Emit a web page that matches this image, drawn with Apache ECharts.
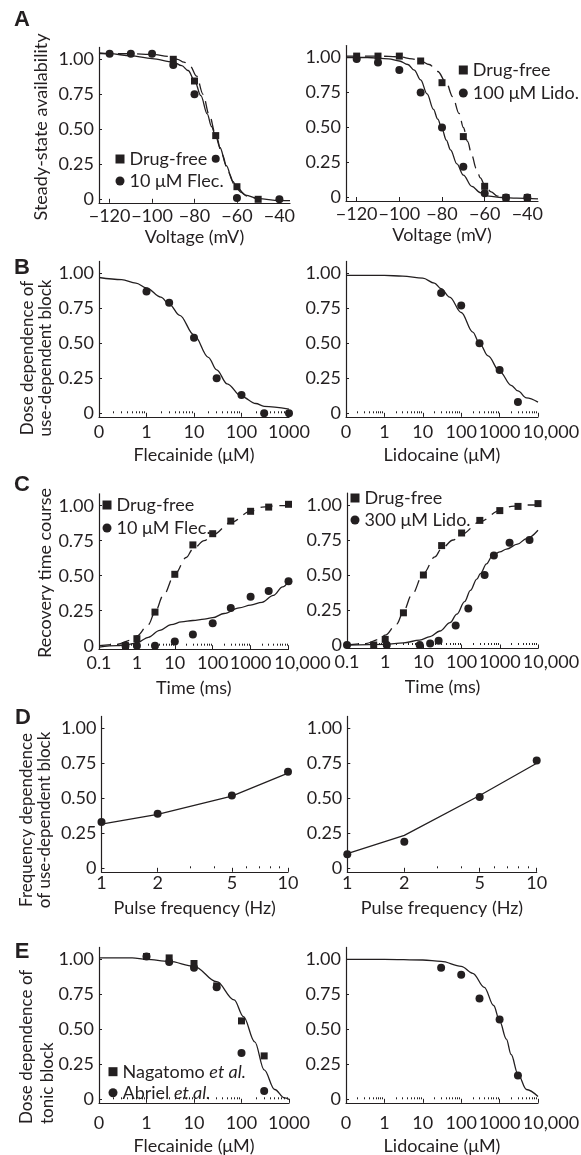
<!DOCTYPE html>
<html>
<head>
<meta charset="utf-8">
<script src="https://cdn.jsdelivr.net/npm/echarts@6/dist/echarts.min.js"></script>
<style>
html,body{margin:0;padding:0;background:#fff}
#chart{width:581px;height:1155px}
</style>
</head>
<body>
<div id="chart"></div>
<script>
// ---- A: steady-state availability vs voltage ----
var voltage = [-120, -110, -100, -90, -80, -70, -60, -50, -40];
var aFreeLeftV = [-90, -80, -70, -60, -50];
var aFreeLeft = [1.0, 0.845, 0.455, 0.09, 0.0];
var aFlecV = [-120, -110, -100, -90, -80, -70, -60, -40];
var aFlec = [1.04, 1.04, 1.04, 0.96, 0.75, 0.29, 0.01, 0.0];
var aFreeRight = [1.01, 1.01, 1.01, 0.975, 0.82, 0.435, 0.08, 0.0, 0.0];
var aLido = [0.99, 0.965, 0.91, 0.75, 0.50, 0.22, 0.03, 0.0, 0.0];

var aFitFlecV = [-125, -120, -110, -100, -90, -86, -83, -80, -77, -74, -72, -70, -68, -65, -62, -60, -56, -50, -40, -35];
var aFitFlec = [1.045, 1.04, 1.025, 1.005, 0.98, 0.955, 0.92, 0.85, 0.74, 0.61, 0.52, 0.45, 0.37, 0.24, 0.13, 0.085, 0.03, 0.005, -0.01, -0.01];
var aFitFreeLV = [-125, -110, -100, -92, -88, -85, -82, -79, -76, -73, -70, -67, -64, -61, -58, -55, -50];
var aFitFreeL = [1.04, 1.04, 1.035, 1.02, 1.0, 0.98, 0.95, 0.88, 0.75, 0.6, 0.46, 0.32, 0.19, 0.1, 0.05, 0.02, 0.0];
var aFitLidoV = [-125, -115, -105, -100, -96, -93, -90, -87, -84, -82, -80, -78, -76, -73, -70, -66, -62, -58, -52, -45, -35];
var aFitLido = [1.0, 1.0, 0.99, 0.975, 0.95, 0.91, 0.84, 0.74, 0.63, 0.56, 0.49, 0.41, 0.34, 0.24, 0.16, 0.08, 0.035, 0.01, 0.0, -0.005, -0.01];
var aFitFreeRV = [-125, -110, -100, -94, -90, -86, -82, -78, -75, -72, -70, -68, -66, -64, -62, -60, -57, -54, -50];
var aFitFreeR = [1.01, 1.01, 1.005, 0.99, 0.975, 0.95, 0.9, 0.82, 0.72, 0.6, 0.5, 0.4, 0.3, 0.21, 0.14, 0.09, 0.04, 0.01, 0.0];

// ---- B: dose dependence of use-dependent block ----
var bFlecConc = [1, 3, 10, 30, 100, 300, 1000];
var bFlec = [0.87, 0.79, 0.54, 0.25, 0.13, 0.0, 0.0];
var bLidoConc = [30, 100, 300, 1000, 3000];
var bLido = [0.86, 0.77, 0.50, 0.31, 0.08];
var bFitFlecC = [0.1, 0.3, 0.6, 1, 2, 3, 5, 10, 20, 30, 50, 100, 200, 300, 1000];
var bFitFlec = [0.97, 0.955, 0.93, 0.895, 0.83, 0.78, 0.70, 0.56, 0.40, 0.31, 0.21, 0.12, 0.07, 0.05, 0.03];
var bFitLidoC = [0.1, 1, 3, 10, 20, 30, 50, 100, 200, 300, 500, 1000, 2000, 3000, 5000, 10000];
var bFitLido = [0.985, 0.985, 0.98, 0.965, 0.93, 0.89, 0.83, 0.72, 0.58, 0.5, 0.41, 0.3, 0.2, 0.16, 0.11, 0.08];

// ---- C: recovery time course ----
var cTime = [0.5, 1, 3, 10, 30, 100, 300, 1000, 3000, 10000];
var cFreeLeft = [0.0, 0.05, 0.24, 0.51, 0.72, 0.80, 0.89, 0.96, 0.99, 1.01];
var cFlec = [0.0, 0.0, 0.0, 0.03, 0.08, 0.16, 0.27, 0.35, 0.39, 0.46];
var cFreeRight = [0.0, 0.04, 0.23, 0.50, 0.71, 0.80, 0.89, 0.96, 0.99, 1.01];
var cLidoTime = [0.1, 1.1, 8, 15, 25, 70, 150, 400, 700, 1800, 6000];
var cLido = [0.0, 0.0, 0.0, 0.01, 0.03, 0.14, 0.26, 0.50, 0.64, 0.73, 0.75];
var cFitFreeT = [0.1, 0.3, 0.7, 1, 2, 3, 5, 10, 20, 30, 60, 100, 300, 1000, 2000, 5000, 10000];
var cFitFree = [0.0, 0.01, 0.04, 0.07, 0.15, 0.24, 0.36, 0.51, 0.63, 0.69, 0.75, 0.79, 0.88, 0.96, 0.99, 1.0, 1.0];
var cFitFlecT = [0.1, 0.3, 0.6, 1, 2, 4, 8, 15, 30, 60, 100, 200, 500, 1000, 2000, 4000, 7000, 10000];
var cFitFlec = [-0.01, 0.0, 0.01, 0.02, 0.06, 0.11, 0.15, 0.17, 0.18, 0.19, 0.2, 0.23, 0.27, 0.29, 0.31, 0.36, 0.42, 0.46];
var cFitLidoT = [0.1, 1, 3, 8, 15, 27, 50, 75, 120, 170, 250, 310, 450, 630, 1000, 1500, 2900, 5000, 10000];
var cFitLido = [0.0, 0.005, 0.015, 0.035, 0.06, 0.1, 0.16, 0.22, 0.31, 0.39, 0.47, 0.51, 0.58, 0.635, 0.665, 0.685, 0.72, 0.76, 0.82];

// ---- D: frequency dependence ----
var freq = [1, 2, 5, 10];
var dFlec = [0.33, 0.39, 0.52, 0.69];
var dFlecFit = [0.315, 0.385, 0.515, 0.68];
var dLido = [0.10, 0.19, 0.51, 0.77];
var dLidoFit = [0.105, 0.235, 0.52, 0.75];

// ---- E: dose dependence of tonic block ----
var eFlecConc = [1, 3, 10, 30, 100, 300];
var eNagatomo = [1.02, 1.01, 0.97, 0.81, 0.56, 0.31];
var eAbriel = [1.02, 0.98, 0.94, 0.80, 0.33, 0.06];
var eLidoConc = [30, 100, 300, 1000, 3000];
var eLido = [0.94, 0.89, 0.72, 0.57, 0.17];
var eFitFlecC = [0.1, 0.5, 1, 3, 10, 30, 70, 110, 190, 300, 500, 800, 1000];
var eFitFlec = [1.01, 1.01, 1.0, 0.985, 0.95, 0.84, 0.71, 0.59, 0.41, 0.21, 0.07, 0.01, 0.0];
var eFitLidoC = [0.1, 1, 10, 30, 100, 200, 400, 700, 1000, 1500, 2000, 3000, 5000, 10000];
var eFitLido = [1.0, 1.0, 0.995, 0.985, 0.95, 0.9, 0.8, 0.67, 0.56, 0.43, 0.32, 0.18, 0.07, 0.02];

// ticks
var yTicks = [0, 0.25, 0.5, 0.75, 1];
var vTicks = [-120, -100, -80, -60, -40];
var decades3 = [0.1, 1, 10, 100, 1000];
var decades4 = [0.1, 1, 10, 100, 1000, 10000];
var freqTicks = [1, 2, 5, 10];
var freqMinor = [3, 4, 6, 7, 8, 9];

var FONT = 'Lato';
var INK = '#231f20';
var FS = 18;

function pairs(xs, ys) {
    return xs.map(function (x, i) { return [x, ys[i]]; });
}
function minorOf(dec) {
    var out = [];
    for (var i = 0; i < dec.length - 1; i++) {
        for (var m = 2; m < 10; m++) out.push(+(dec[i] * m).toPrecision(3));
    }
    return out;
}

// panel frames (pixel positions of the axes)
var frames = [
    {l: 99, r: 290, y0: 199.3},
    {l: 346, r: 538, y0: 197.5},
    {l: 99, r: 289, y0: 413.3},
    {l: 346, r: 538, y0: 413.3},
    {l: 99, r: 288.5, y0: 645.7},
    {l: 347, r: 538, y0: 645},
    {l: 101.5, r: 288, y0: 868.3},
    {l: 347.3, r: 536.7, y0: 868.3},
    {l: 99, r: 289, y0: 1099.3},
    {l: 346, r: 538, y0: 1099.3}
];
var K = 140, YMIN = -0.025, YMAX = 1.085;

var xNames = ['Voltage (mV)', 'Voltage (mV)', 'Flecainide (\u03bcM)', 'Lidocaine (\u03bcM)',
    'Time (ms)', 'Time (ms)', 'Pulse frequency (Hz)', 'Pulse frequency (Hz)',
    'Flecainide (\u03bcM)', 'Lidocaine (\u03bcM)'];
var labelMargin = [4, 4, 6, 6, 5, 5, 2, 2, 11, 11];
var nameGap = [25, 25, 29, 29, 30, 30, 27, 27, 34, 34];

var grids = [], xAxes = [], yAxes = [];
frames.forEach(function (f, g) {
    grids.push({left: f.l, top: f.y0 - YMAX * K, width: f.r - f.l, height: (YMAX - YMIN) * K,
        containLabel: false, outerBoundsMode: 'none'});
    yAxes.push({
        type: 'value', gridIndex: g, min: YMIN, max: YMAX,
        axisLine: {show: true, onZero: false, lineStyle: {color: INK, width: 1.2}},
        axisTick: {show: true, inside: true, length: 3, customValues: yTicks, lineStyle: {color: INK}},
        axisLabel: {customValues: yTicks, margin: 5, color: INK, fontFamily: FONT, fontSize: FS,
            showMinLabel: true, showMaxLabel: true,
            formatter: function (v) { return v === 0 ? '0' : v.toFixed(2); }},
        splitLine: {show: false}
    });
    var main = {
        gridIndex: g, position: 'bottom', name: xNames[g], nameLocation: 'middle', nameGap: nameGap[g],
        nameTextStyle: {fontFamily: FONT, fontSize: FS, color: INK},
        axisLine: {show: true, onZero: false, lineStyle: {color: INK, width: 1.2}},
        axisTick: {show: true, inside: true, length: 4, lineStyle: {color: INK}},
        axisLabel: {margin: labelMargin[g], color: INK, fontFamily: FONT, fontSize: FS,
            showMinLabel: true, showMaxLabel: true, hideOverlap: false},
        splitLine: {show: false}
    };
    // second axis on the same grid: minor ticks, plus the shifted "10,000" label
    var minor = {
        gridIndex: g, position: 'bottom', axisLine: {show: false}, axisLabel: {show: false},
        axisTick: {show: true, inside: true, length: 2, lineStyle: {color: INK}}, splitLine: {show: false}
    };
    var wPad = g === 4 ? 28 : 26;
    if (g < 2) {
        main.type = 'value'; main.min = -125; main.max = -35;
        main.axisTick.customValues = vTicks;
        main.axisLabel.customValues = vTicks;
        main.axisLabel.formatter = function (v) { return v < 0 ? '\u2212' + Math.abs(v) : String(v); };
        minor.type = 'value'; minor.min = -125; minor.max = -35; minor.axisTick.show = false;
    } else if (g < 6 || g > 7) {
        var dec = (g === 2 || g === 8) ? decades3 : decades4;
        var zero = (g === 2 || g === 3 || g === 8 || g === 9);
        var top = dec[dec.length - 1];
        main.type = 'log'; main.logBase = 10; main.min = 0.1; main.max = top;
        main.axisTick.customValues = dec;
        main.axisLabel.customValues = top > 5000 ? dec.slice(0, -1) : dec;
        main.axisLabel.formatter = function (v) {
            if (v < 0.5) return zero ? '0' : '0.1';
            return String(Math.round(v));
        };
        minor.type = 'log'; minor.logBase = 10; minor.min = 0.1; minor.max = top;
        minor.axisTick.customValues = minorOf(dec);
        if (top > 5000) {
            minor.axisLabel = {show: true, customValues: [top], margin: labelMargin[g],
                showMinLabel: true, showMaxLabel: true,
                color: INK, fontFamily: FONT, fontSize: FS,
                rich: {w: {fontFamily: FONT, fontSize: FS, color: INK, padding: [0, 0, 0, wPad]}},
                formatter: function () { return '{w|10,000}'; }};
        }
    } else {
        main.type = 'log'; main.logBase = 10; main.min = 1; main.max = 10;
        main.axisTick.customValues = freqTicks;
        main.axisLabel.customValues = freqTicks;
        main.axisLabel.formatter = function (v) { return String(Math.round(v)); };
        minor.type = 'log'; minor.logBase = 10; minor.min = 1; minor.max = 10;
        minor.axisTick.customValues = freqMinor;
    }
    xAxes.push(main, minor);
});

function curve(g, xs, ys, dashed) {
    return {type: 'line', xAxisIndex: 2 * g, yAxisIndex: g, data: pairs(xs, ys), symbol: 'none',
        smooth: 0.35, smoothMonotone: 'x', silent: true, z: 2,
        lineStyle: {color: INK, width: 1.3, type: dashed ? [12, 7] : 'solid'}};
}
function poly(g, xs, ys) {
    return {type: 'line', xAxisIndex: 2 * g, yAxisIndex: g, data: pairs(xs, ys), symbol: 'none',
        silent: true, z: 2, lineStyle: {color: INK, width: 1.3}};
}
function dots(g, name, xs, ys, shape) {
    return {type: 'scatter', name: name, xAxisIndex: 2 * g, yAxisIndex: g, data: pairs(xs, ys),
        symbol: shape, symbolSize: shape === 'rect' ? 7 : 8,
        itemStyle: {color: INK, opacity: 1}, silent: true, z: 3};
}

var series = [
    curve(0, aFitFreeLV, aFitFreeL, true),
    curve(0, aFitFlecV, aFitFlec, false),
    dots(0, 'Drug-free', aFreeLeftV, aFreeLeft, 'rect'),
    dots(0, '10 \u03bcM Flec.', aFlecV, aFlec, 'circle'),

    curve(1, aFitFreeRV, aFitFreeR, true),
    curve(1, aFitLidoV, aFitLido, false),
    dots(1, 'Drug-free', voltage, aFreeRight, 'rect'),
    dots(1, '100 \u03bcM Lido.', voltage, aLido, 'circle'),

    curve(2, bFitFlecC, bFitFlec, false),
    dots(2, 'bFlec', bFlecConc, bFlec, 'circle'),
    curve(3, bFitLidoC, bFitLido, false),
    dots(3, 'bLido', bLidoConc, bLido, 'circle'),

    curve(4, cFitFreeT, cFitFree, true),
    curve(4, cFitFlecT, cFitFlec, false),
    dots(4, 'Drug-free', cTime, cFreeLeft, 'rect'),
    dots(4, '10 \u03bcM Flec.', cTime, cFlec, 'circle'),

    curve(5, cFitFreeT, cFitFree, true),
    curve(5, cFitLidoT, cFitLido, false),
    dots(5, 'Drug-free', cTime, cFreeRight, 'rect'),
    dots(5, '300 \u03bcM Lido.', cLidoTime, cLido, 'circle'),

    poly(6, freq, dFlecFit),
    dots(6, 'dFlec', freq, dFlec, 'circle'),
    poly(7, freq, dLidoFit),
    dots(7, 'dLido', freq, dLido, 'circle'),

    curve(8, eFitFlecC, eFitFlec, false),
    dots(8, 'Nagatomo et al.', eFlecConc, eNagatomo, 'rect'),
    dots(8, 'Abriel et al.', eFlecConc, eAbriel, 'circle'),
    curve(9, eFitLidoC, eFitLido, false),
    dots(9, 'eLido', eLidoConc, eLido, 'circle')
];

var legendText = {fontFamily: FONT, fontSize: FS, color: INK, lineHeight: 20,
    rich: {i: {fontFamily: FONT, fontSize: FS, color: INK, lineHeight: 20, fontStyle: 'italic'}}};
function legendAt(left, top, gap, names) {
    return {orient: 'vertical', left: left, top: top, padding: 0, itemGap: gap,
        itemWidth: 9, itemHeight: 9, selectedMode: false, textStyle: legendText,
        itemStyle: {color: INK, opacity: 1},
        data: names.map(function (n, i) { return {name: n, icon: i === 0 ? 'rect' : 'circle'}; }),
        formatter: function (name) { return name.replace('et al.', '{i|et al.}'); }};
}

var legends = [
    legendAt(115.5, 149, 2, ['Drug-free', '10 \u03bcM Flec.']),
    legendAt(458.8, 60, 3, ['Drug-free', '100 \u03bcM Lido.']),
    legendAt(102.5, 495, 3, ['Drug-free', '10 \u03bcM Flec.']),
    legendAt(350.5, 488, 2, ['Drug-free', '300 \u03bcM Lido.']),
    legendAt(108.5, 1061.7, 1, ['Nagatomo et al.', 'Abriel et al.'])
];

function letter(t, x, y) {
    return {type: 'text', x: x, y: y, silent: true,
        style: {text: t, fontFamily: 'Liberation Sans', fontWeight: 'bold', fontSize: 22, fill: INK,
            align: 'center', verticalAlign: 'middle'}};
}
function ytitle(t, x, y, align, lh, fs) {
    return {type: 'text', x: x, y: y, rotation: Math.PI / 2, silent: true,
        style: {text: t, fontFamily: FONT, fontSize: fs || FS, fill: INK, lineHeight: lh,
            align: align, verticalAlign: 'middle'}};
}

var graphics = [
    letter('A', 22, 20), letter('B', 22, 268), letter('C', 22, 485), letter('D', 23, 718), letter('E', 22, 952),
    ytitle('Steady-state availability', 41, 127, 'center', 18),
    ytitle('Dose dependence of\nuse-dependent block', 36.5, 358, 'center', 18, 17),
    ytitle('Recovery time course', 45, 573, 'center', 18),
    ytitle('Frequency dependence\nof use-dependent block', 36, 820, 'center', 18, 17),
    ytitle('Dose dependence of\ntonic block', 37.5, 1124, 'left', 21, 17)
];

var chart = echarts.init(document.getElementById('chart'), null, {renderer: 'canvas'});
chart.setOption({
    backgroundColor: '#fff',
    animation: false,
    grid: grids,
    xAxis: xAxes,
    yAxis: yAxes,
    legend: legends,
    graphic: graphics,
    series: series
});
</script>
</body>
</html>
